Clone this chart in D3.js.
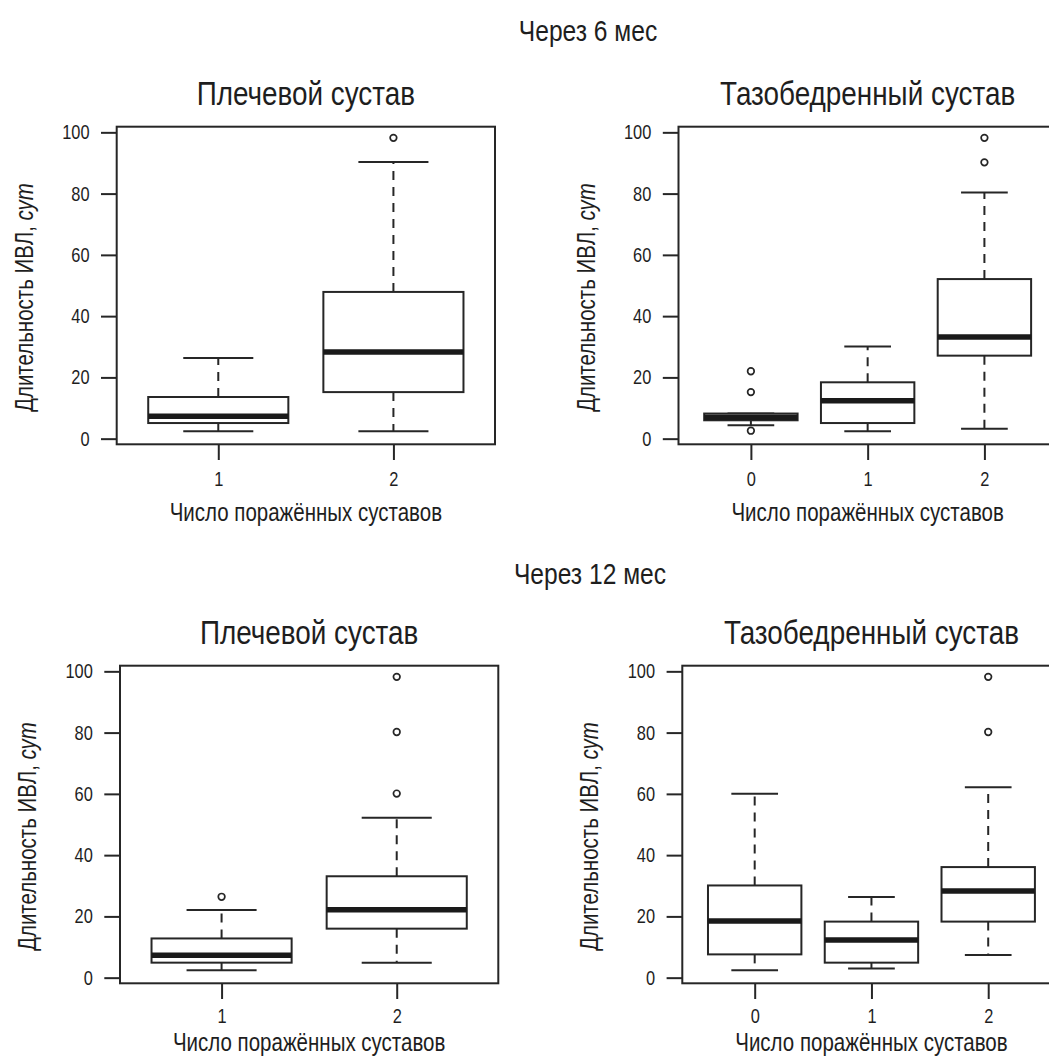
<!DOCTYPE html>
<html>
<head>
<meta charset="utf-8">
<script src="https://cdn.jsdelivr.net/npm/d3@7"></script>
<style>
  html, body { margin: 0; padding: 0; background: #fff; }
  svg { display: block; }
  text { font-family: "Liberation Sans", Arial, sans-serif; fill: #1e1e1e; }
</style>
</head>
<body>
<svg id="chart" width="1049" height="1056"></svg>
<script>
// ---------- DATA ----------
const mainTitles = ["Через 6 мес", "Через 12 мес"];
const panelTitles = ["Плечевой сустав", "Тазобедренный сустав"];
const yLabelMain = "Длительность ИВЛ, ";
const yLabelUnit = "сут";
const xLabel = "Число поражённых суставов";
const yTicks = [0, 20, 40, 60, 80, 100];
const yDomain = [-1.84, 101.84];

// stats per category: [lower whisker, Q1, median, Q3, upper whisker]
const shoulder6Cats = ["1", "2"];
const shoulder6Stats = [[2.4, 5.1, 7.3, 13.6, 26.3], [2.4, 15.2, 28.3, 47.9, 90.3]];
const shoulder6Out = [[], [98.2]];

const hip6Cats = ["0", "1", "2"];
const hip6Stats = [[4.4, 6.0, 7.0, 8.2, 8.2], [2.4, 5.1, 12.4, 18.4, 30.1], [3.2, 27.1, 33.2, 52.1, 80.4]];
const hip6Out = [[22.0, 15.2, 2.6], [], [98.2, 90.2]];

const shoulder12Cats = ["1", "2"];
const shoulder12Stats = [[2.4, 4.9, 7.3, 12.8, 22.1], [4.9, 16.0, 22.2, 33.1, 52.2]];
const shoulder12Out = [[26.4], [98.2, 80.2, 60.1]];

const hip12Cats = ["0", "1", "2"];
const hip12Stats = [[2.4, 7.6, 18.5, 30.1, 60.0], [3.0, 4.9, 12.3, 18.3, 26.3], [7.4, 18.3, 28.3, 36.1, 62.2]];
const hip12Out = [[], [], [98.2, 80.2]];

// ---------- LAYOUT ----------
const svg = d3.select("#chart");
const ink = "#262626";
const FONT = '"Liberation Sans", Arial, sans-serif';
const NARROW = 0.82; // horizontal condensation of glyphs
const W = 378.3, H = 317.6;
const panels = [
  { title: panelTitles[0], cats: shoulder6Cats, stats: shoulder6Stats, out: shoulder6Out, left: 116.7, top: 126.7, xlab: 76.5, tpad: 12 },
  { title: panelTitles[1], cats: hip6Cats, stats: hip6Stats, out: hip6Out, left: 678.5, top: 126.7, xlab: 76.5, tpad: 12 },
  { title: panelTitles[0], cats: shoulder12Cats, stats: shoulder12Stats, out: shoulder12Out, left: 120.0, top: 665.7, xlab: 67.2, tpad: 10 },
  { title: panelTitles[1], cats: hip12Cats, stats: hip12Stats, out: hip12Out, left: 682.3, top: 665.7, xlab: 67.2, tpad: 10 }
];

// place a condensed text at (x, y)
function label(parent, x, y, str, size, anchor) {
  return parent.append("text")
    .attr("transform", `translate(${x},${y}) scale(${NARROW},1)`)
    .attr("text-anchor", anchor || "middle")
    .style("font-size", size + "px")
    .text(str);
}
// condense axis tick labels in place
function condenseTicks(sel) {
  sel.each(function () {
    const t = d3.select(this);
    const tx = +t.attr("x") || 0, ty = +t.attr("y") || 0;
    t.attr("x", 0).attr("y", 0).attr("transform", `translate(${tx},${ty}) scale(${NARROW},1)`);
  });
}

svg.append("rect").attr("width", 1049).attr("height", 1056).attr("fill", "#fff");

// main titles
label(svg, 588, 41, mainTitles[0], 30);
label(svg, 590, 584, mainTitles[1], 30);

panels.forEach(p => {
  const n = p.cats.length;
  const x = d3.scaleLinear().domain([0.5 - 0.04 * n, n + 0.5 + 0.04 * n]).range([p.left, p.left + W]);
  const y = d3.scaleLinear().domain(yDomain).range([p.top + H, p.top]);
  const g = svg.append("g");
  const step = x(2) - x(1);
  const bw = 0.8 * step;

  // y axis
  const ya = g.append("g").attr("transform", `translate(${p.left},0)`)
    .call(d3.axisLeft(y).tickValues(yTicks).tickSize(15.7).tickPadding(11.5));
  ya.select(".domain").remove();
  ya.selectAll("line").attr("stroke", ink).attr("stroke-width", 2);
  ya.selectAll("text").style("font-size", "20px").style("font-family", FONT).attr("fill", "#1e1e1e");
  condenseTicks(ya.selectAll("text"));

  // x axis
  const xa = g.append("g").attr("transform", `translate(0,${p.top + H})`)
    .call(d3.axisBottom(x).tickValues(d3.range(1, n + 1)).tickFormat(i => p.cats[i - 1]).tickSize(15.7).tickPadding(p.tpad));
  xa.select(".domain").remove();
  xa.selectAll("line").attr("stroke", ink).attr("stroke-width", 2);
  xa.selectAll("text").style("font-size", "20px").style("font-family", FONT).attr("fill", "#1e1e1e");
  condenseTicks(xa.selectAll("text"));

  // frame
  g.append("rect").attr("x", p.left).attr("y", p.top).attr("width", W).attr("height", H)
    .attr("fill", "none").attr("stroke", ink).attr("stroke-width", 2);

  // boxes
  p.stats.forEach((s, i) => {
    const cx = x(i + 1);
    const [lo, q1, med, q3, hi] = s;
    const bg = g.append("g").attr("stroke", ink).attr("fill", "none");
    bg.append("line").attr("x1", cx).attr("x2", cx).attr("y1", y(q3)).attr("y2", y(hi))
      .attr("stroke-width", 2).attr("stroke-dasharray", "9,7");
    bg.append("line").attr("x1", cx).attr("x2", cx).attr("y1", y(q1)).attr("y2", y(lo))
      .attr("stroke-width", 2).attr("stroke-dasharray", "9,7");
    [lo, hi].forEach(v => {
      bg.append("line").attr("x1", cx - bw / 4).attr("x2", cx + bw / 4).attr("y1", y(v)).attr("y2", y(v))
        .attr("stroke-width", 2);
    });
    bg.append("rect").attr("x", cx - bw / 2).attr("y", y(q3)).attr("width", bw).attr("height", y(q1) - y(q3))
      .attr("fill", "#fff").attr("stroke-width", 2);
    bg.append("line").attr("x1", cx - bw / 2).attr("x2", cx + bw / 2).attr("y1", y(med)).attr("y2", y(med))
      .attr("stroke-width", 5.5).attr("stroke", "#1a1a1a");
    p.out[i].forEach(v => {
      bg.append("circle").attr("cx", cx).attr("cy", y(v)).attr("r", 3.3)
        .attr("fill", "none").attr("stroke-width", 1.7);
    });
  });

  const cxPlot = p.left + W / 2;
  // panel title
  label(g, cxPlot, p.top - 21.5, p.title, 34);
  // x label
  label(g, cxPlot, p.top + H + p.xlab, xLabel, 25);
  // y label (rotated, condensed along its reading direction)
  const yl = g.append("text")
    .attr("transform", `translate(${p.left - 84},${p.top + H / 2 + 12}) rotate(-90) scale(${NARROW},1)`)
    .attr("text-anchor", "middle").style("font-size", "25px");
  yl.append("tspan").text(yLabelMain);
  yl.append("tspan").style("font-style", "italic").text(yLabelUnit);
});
</script>
</body>
</html>
